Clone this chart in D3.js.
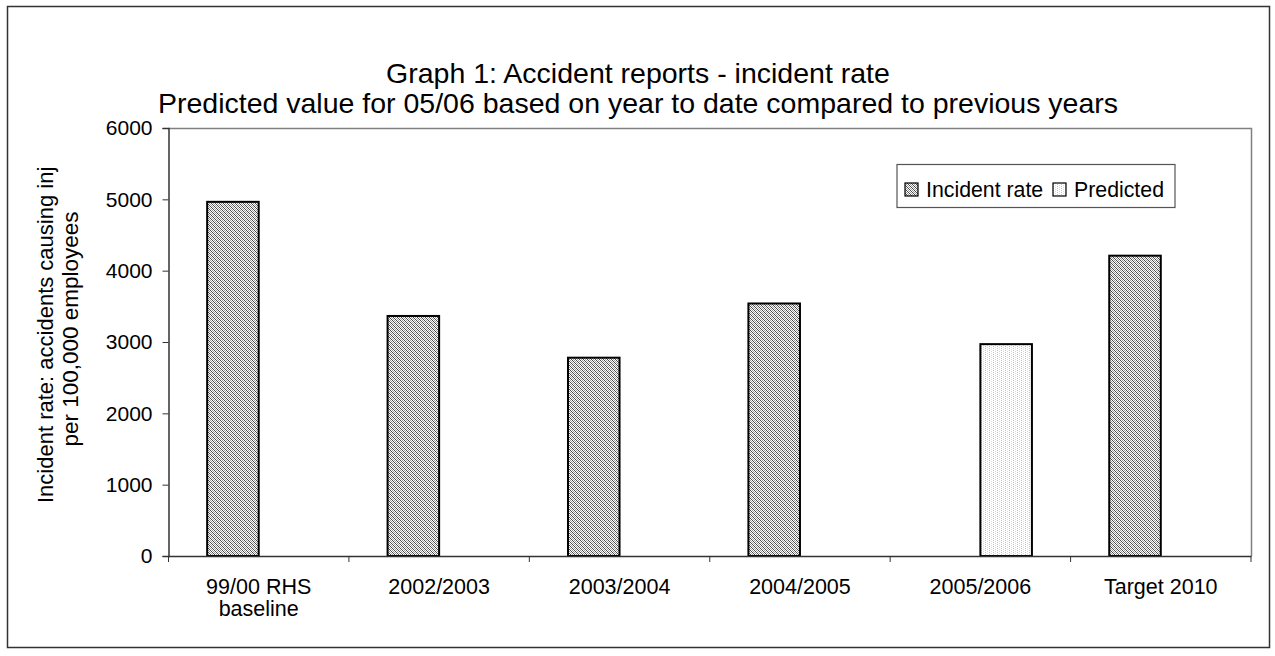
<!DOCTYPE html>
<html><head><meta charset="utf-8">
<script src="https://cdn.jsdelivr.net/npm/d3@7"></script>
<style>html,body{margin:0;padding:0;background:#fff;}svg{display:block;font-family:"Liberation Sans",Arial,sans-serif;}</style>
</head><body>
<script>
const titleLines = ["Graph 1: Accident reports - incident rate", "Predicted value for 05/06 based on year to date compared to previous years"];
const categories = [["99/00 RHS","baseline"],["2002/2003"],["2003/2004"],["2004/2005"],["2005/2006"],["Target 2010"]];
const seriesNames = ["Incident rate", "Predicted"];
const incidentRate = [4965, 3365, 2780, 3540, null, 4210];
const predicted = [null, null, null, null, 2970, null];
const yTicks = [0, 1000, 2000, 3000, 4000, 5000, 6000];
const yTitleLines = ["Incident rate: accidents causing injuries", "per 100,000 employees"];

const W = 1275, H = 656;
const svg = d3.select("body").append("svg").attr("width", W).attr("height", H);
const defs = svg.append("defs");

// patterns
const p1 = defs.append("pattern").attr("id","patInc").attr("patternUnits","userSpaceOnUse").attr("width",4).attr("height",4);
p1.append("rect").attr("width",4).attr("height",4).attr("fill","#fff");
for (let px=0; px<4; px++) for (let py=0; py<4; py++) {
  const d = ((px-py)%4+4)%4;
  if (d===0) p1.append("rect").attr("x",px).attr("y",py).attr("width",1).attr("height",1).attr("fill","#4a4a4a");
  else if (d===2) p1.append("rect").attr("x",px).attr("y",py).attr("width",1).attr("height",1).attr("fill","#9a9a9a");
}
const p2 = defs.append("pattern").attr("id","patPred").attr("patternUnits","userSpaceOnUse").attr("width",4).attr("height",2);
p2.append("rect").attr("width",4).attr("height",2).attr("fill","#fff");
p2.append("rect").attr("x",1).attr("y",0).attr("width",1).attr("height",1).attr("fill","#c0c0c0");
p2.append("rect").attr("x",3).attr("y",1).attr("width",1).attr("height",1).attr("fill","#dadada");
const fills = {"Incident rate":"url(#patInc)", "Predicted":"url(#patPred)"};

// outer border
svg.append("rect").attr("x",7.5).attr("y",6.5).attr("width",1262).attr("height",641)
  .attr("fill","none").attr("stroke","#333").attr("stroke-width",1.5);

// title
const tt = svg.append("text").attr("text-anchor","middle").attr("font-size",28.5).attr("fill","#000");
titleLines.forEach((t,i)=>tt.append("tspan").attr("x",638).attr("y",83+i*30).text(t));

const L = 168.5, R = 1251, T = 128, B = 556;
const x = d3.scaleBand().domain(categories.map(c=>c.join(" "))).range([L,R]).paddingInner(0).paddingOuter(0);
const bw = x.bandwidth();
const xs = d3.scaleBand().domain(seriesNames).range([bw*0.75/3.5, bw - bw*0.75/3.5]).padding(0);
const y = d3.scaleLinear().domain([0,6000]).range([B,T]);

// plot area border (top/right)
svg.append("path").attr("d",`M${L},${T+0.5}H${R+0.5}V${B}`).attr("fill","none").attr("stroke","#808080").attr("stroke-width",1.5);

// bars
const rows = [];
categories.forEach((c,i)=>{
  if (incidentRate[i]!=null) rows.push({cat:c.join(" "), s:"Incident rate", v:incidentRate[i]});
  if (predicted[i]!=null) rows.push({cat:c.join(" "), s:"Predicted", v:predicted[i]});
});
svg.append("g").selectAll("rect").data(rows).join("rect")
  .attr("x",d=>x(d.cat)+xs(d.s)).attr("width",xs.bandwidth())
  .attr("y",d=>y(d.v)).attr("height",d=>B-y(d.v))
  .attr("fill",d=>fills[d.s]).attr("stroke","#000").attr("stroke-width",2);

// y axis
const ya = svg.append("g").attr("transform",`translate(${L},0)`)
  .call(d3.axisLeft(y).tickValues(yTicks).tickFormat(d3.format("d")).tickSize(6).tickPadding(10));
ya.select(".domain").attr("stroke","#333").attr("stroke-width",1.5);
ya.selectAll(".tick line").attr("stroke","#333");
ya.selectAll(".tick text").attr("font-size",21).attr("font-family","Liberation Sans, Arial, sans-serif").attr("fill","#000");

// x axis
const xa = svg.append("g").attr("transform",`translate(0,${B})`)
  .call(d3.axisBottom(x).tickSizeOuter(0).tickSize(0).tickFormat(""));
xa.select(".domain").attr("stroke","#333").attr("stroke-width",1.5);
const bounds = x.domain().map(d=>x(d)).concat([R]);
svg.append("g").selectAll("line").data(bounds).join("line")
  .attr("x1",d=>d).attr("x2",d=>d).attr("y1",B).attr("y2",B+6).attr("stroke","#333");
categories.forEach(c=>{
  const t = svg.append("text").attr("text-anchor","middle").attr("font-size",21.5).attr("fill","#000");
  c.forEach((line,j)=>t.append("tspan").attr("x",x(c.join(" "))+bw/2).attr("y",594+j*22).text(line));
});

// y title (first line clipped at top)
defs.append("clipPath").attr("id","ytClip").append("rect").attr("x",0).attr("y",166).attr("width",120).attr("height",400);
const yt = svg.append("g").attr("clip-path","url(#ytClip)");
yt.append("text").attr("transform","translate(53,503) rotate(-90)").attr("text-anchor","start").attr("font-size",22).text(yTitleLines[0]);
svg.append("text").attr("transform","translate(78,329) rotate(-90)").attr("text-anchor","middle").attr("font-size",22.5).text(yTitleLines[1]);

// legend
const lg = svg.append("g");
lg.append("rect").attr("x",897).attr("y",164.5).attr("width",278).attr("height",43).attr("fill","#fff").attr("stroke","#555").attr("stroke-width",1.2);
const lx = [905, 1053];
seriesNames.forEach((s,i)=>{
  lg.append("rect").attr("x",lx[i]).attr("y",183).attr("width",13).attr("height",13).attr("fill",fills[s]).attr("stroke","#000").attr("stroke-width",1.2);
  lg.append("text").attr("x",lx[i]+21).attr("y",197).attr("font-size",21.3).text(s);
});
</script>
</body></html>
